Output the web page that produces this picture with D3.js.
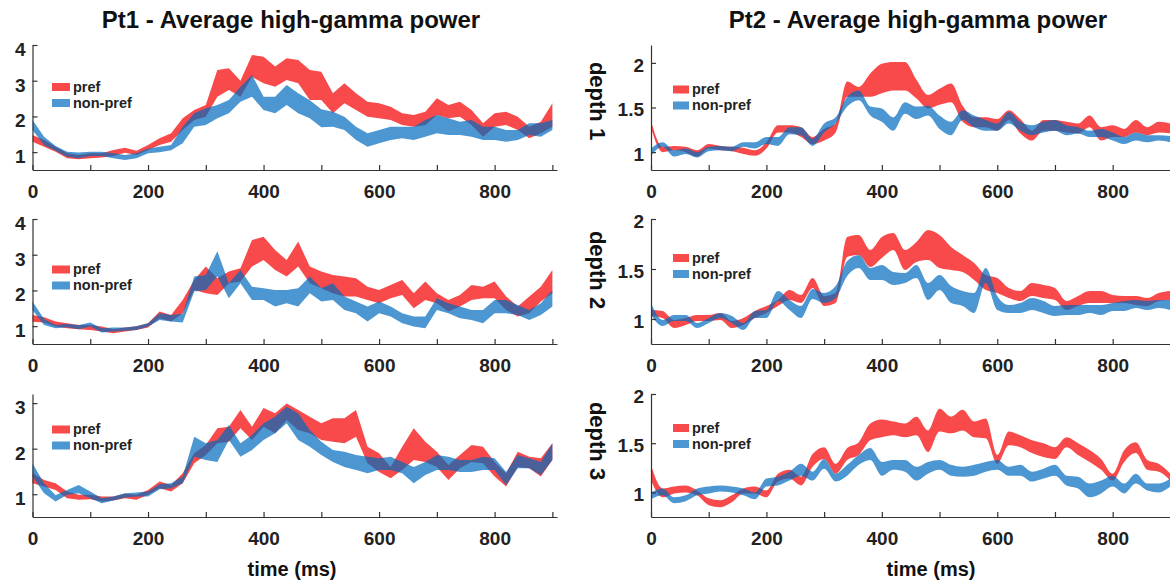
<!DOCTYPE html>
<html>
<head>
<meta charset="utf-8">
<script src="https://cdn.jsdelivr.net/npm/d3@7"></script>
<style>
  body { margin: 0; background: #fff; }
  svg { display: block; font-family: "Liberation Sans", Arial, Helvetica, sans-serif; font-weight: bold; }
</style>
</head>
<body>
<svg id="chart" width="1170" height="586"></svg>
<script>
// sample times (ms), one value every 20 ms
const timeMs = [0,20,40,60,80,100,120,140,160,180,200,220,240,260,280,300,320,340,360,380,400,420,440,
  460,480,500,520,540,560,580,600,620,640,660,680,700,720,740,760,780,800,820,840,860,880,900];

// Pt1 depth 1 (band = lower / upper edge)
const pt1d1PrefLo = [1.29,1.15,1.01,0.83,0.80,0.83,0.85,0.89,0.98,0.92,1.06,1.20,1.29,1.62,1.90,1.99,2.55,2.74,2.55,3.11,2.93,2.83,3.02,2.93,2.46,2.46,2.09,2.37,2.18,1.99,1.95,1.90,1.76,1.71,1.76,2.04,1.95,1.99,1.76,1.43,1.71,1.76,1.62,1.39,1.53,1.71];
const pt1d1PrefHi = [1.48,1.34,1.15,0.97,0.92,0.97,0.97,1.06,1.12,1.04,1.20,1.39,1.53,1.95,2.18,2.32,3.30,3.35,3.00,3.72,3.67,3.40,3.63,3.58,3.30,3.25,2.65,2.93,2.65,2.41,2.37,2.27,2.09,2.04,2.13,2.51,2.32,2.41,2.18,1.81,2.09,2.13,1.99,1.71,1.85,2.37];
const pt1d1NonLo = [1.62,1.20,1.04,0.87,0.83,0.89,0.89,0.83,0.78,0.83,0.97,1.00,1.05,1.25,1.71,1.76,1.95,2.09,2.41,2.55,2.18,2.09,2.32,2.09,1.95,1.70,1.71,1.62,1.34,1.15,1.25,1.34,1.39,1.34,1.43,1.53,1.48,1.48,1.43,1.34,1.34,1.29,1.34,1.48,1.43,1.62];
const pt1d1NonHi = [1.90,1.43,1.17,1.01,0.99,1.01,1.01,0.97,0.92,0.97,1.10,1.15,1.20,1.71,2.09,2.23,2.32,2.46,2.83,3.16,2.55,2.55,2.88,2.65,2.45,2.20,2.13,1.99,1.71,1.53,1.62,1.71,1.71,1.71,1.90,2.04,1.95,1.85,1.90,1.71,1.71,1.62,1.62,1.81,1.81,1.90];

// Pt1 depth 2
const pt1d2PrefLo = [1.12,1.10,0.99,0.94,0.91,0.89,0.85,0.80,0.85,0.89,0.96,1.22,1.13,1.36,2.01,1.92,1.87,2.20,2.25,2.67,2.85,2.57,2.39,2.67,2.20,2.06,1.92,1.83,1.83,1.73,1.64,1.78,1.87,1.50,1.73,1.64,1.41,1.55,1.73,1.78,1.78,1.45,1.27,1.36,1.69,1.92];
const pt1d2PrefHi = [1.31,1.25,1.13,1.08,1.03,1.03,0.99,0.91,0.96,1.00,1.08,1.41,1.31,1.73,2.29,2.67,2.34,2.53,2.62,3.41,3.50,3.13,2.85,3.37,2.67,2.53,2.43,2.39,2.34,2.10,2.01,2.15,2.29,1.92,2.25,1.92,1.73,1.87,2.15,2.10,2.25,1.83,1.55,1.83,2.10,2.57];
const pt1d2NonLo = [1.45,1.03,0.94,0.97,0.91,0.99,0.82,0.85,0.87,0.89,0.99,1.17,1.13,1.10,1.97,2.01,2.40,1.78,2.20,1.73,1.73,1.55,1.64,1.55,1.92,1.69,1.73,1.45,1.36,1.13,1.36,1.27,1.08,0.99,0.94,1.45,1.36,1.22,1.17,1.08,1.36,1.36,1.31,1.17,1.31,1.55];
const pt1d2NonHi = [1.69,1.20,1.03,1.06,1.03,1.10,0.94,0.96,0.96,1.00,1.08,1.36,1.31,1.35,2.39,2.43,3.10,2.20,2.57,2.10,2.06,2.01,2.01,2.06,2.39,2.06,2.20,1.83,1.69,1.55,1.69,1.55,1.36,1.27,1.27,1.78,1.64,1.55,1.45,1.45,1.73,1.73,1.59,1.45,1.64,2.01];

// Pt1 depth 3
const pt1d3PrefLo = [1.24,1.17,1.09,0.91,0.88,0.89,0.84,0.86,0.91,0.88,0.99,1.13,1.06,1.24,1.68,1.86,2.12,2.15,2.45,2.19,2.48,2.34,2.63,2.41,2.34,2.19,2.15,2.12,2.26,1.68,1.49,1.35,1.53,1.75,1.71,1.60,1.31,1.57,1.71,1.68,1.39,1.17,1.60,1.57,1.39,1.75];
const pt1d3PrefHi = [1.46,1.31,1.24,1.06,0.99,0.99,0.95,0.95,1.01,0.99,1.09,1.28,1.20,1.46,1.90,2.08,2.45,2.48,2.85,2.48,2.89,2.78,2.99,2.85,2.70,2.56,2.67,2.67,2.85,2.04,1.90,1.60,2.04,2.45,2.15,1.93,1.64,1.86,2.08,2.04,1.71,1.46,1.93,1.82,1.79,2.12];
const pt1d3NonLo = [1.39,1.02,0.84,0.99,1.02,0.91,0.80,0.86,0.93,0.95,0.95,1.11,1.13,1.24,1.82,1.75,1.71,2.19,1.82,1.97,2.19,2.34,2.56,2.19,2.04,1.86,1.71,1.60,1.53,1.46,1.53,1.53,1.46,1.24,1.42,1.53,1.53,1.49,1.49,1.53,1.53,1.20,1.57,1.57,1.42,1.75];
const pt1d3NonHi = [1.68,1.24,0.98,1.09,1.20,1.06,0.91,0.95,1.02,1.04,1.06,1.22,1.24,1.39,2.26,2.12,2.19,2.52,2.12,2.30,2.56,2.70,2.92,2.78,2.41,2.15,1.97,1.93,1.86,1.82,1.79,1.82,1.71,1.60,1.71,1.86,1.82,1.75,1.75,1.82,1.79,1.49,1.86,1.79,1.71,2.12];

// Pt2 depth 1
const pt2d1PrefLo = [1.27,1.00,1.02,1.00,0.95,1.04,1.02,1.01,0.98,0.96,1.04,1.22,1.22,1.17,1.09,1.13,1.22,1.62,1.62,1.62,1.66,1.69,1.69,1.60,1.49,1.53,1.56,1.34,1.28,1.28,1.24,1.36,1.21,1.13,1.24,1.24,1.22,1.21,1.28,1.13,1.17,1.17,1.22,1.19,1.22,1.21];
const pt2d1PrefHi = [1.35,1.06,1.07,1.06,1.02,1.09,1.07,1.06,1.05,1.02,1.11,1.30,1.30,1.28,1.17,1.26,1.32,1.79,1.73,1.88,1.99,2.01,2.01,1.81,1.64,1.71,1.77,1.52,1.39,1.39,1.37,1.47,1.37,1.24,1.36,1.36,1.34,1.32,1.41,1.28,1.30,1.26,1.36,1.28,1.34,1.32];
const pt2d1NonLo = [0.96,1.06,0.95,0.98,0.94,1.01,1.02,1.01,1.06,1.04,1.09,1.07,1.20,1.19,1.07,1.22,1.32,1.51,1.58,1.41,1.34,1.24,1.43,1.37,1.41,1.26,1.19,1.36,1.28,1.24,1.24,1.32,1.24,1.19,1.22,1.24,1.19,1.21,1.17,1.17,1.13,1.09,1.13,1.11,1.13,1.11];
const pt2d1NonHi = [1.04,1.11,1.02,1.04,1.00,1.06,1.07,1.06,1.11,1.11,1.17,1.17,1.28,1.28,1.15,1.32,1.39,1.62,1.69,1.51,1.49,1.39,1.56,1.51,1.52,1.41,1.34,1.47,1.41,1.36,1.32,1.45,1.34,1.30,1.34,1.36,1.30,1.28,1.24,1.26,1.22,1.17,1.22,1.19,1.19,1.18];

// Pt2 depth 2
const pt2d2PrefLo = [1.03,1.01,0.91,0.94,0.98,0.98,0.99,0.91,0.94,1.01,1.06,1.13,1.19,1.16,1.31,1.13,1.16,1.62,1.64,1.52,1.61,1.69,1.49,1.57,1.59,1.51,1.49,1.47,1.39,1.29,1.26,1.21,1.18,1.23,1.21,1.19,1.09,1.13,1.16,1.16,1.16,1.16,1.14,1.13,1.18,1.19];
const pt2d2PrefHi = [1.09,1.08,0.99,1.01,1.04,1.04,1.06,0.98,1.01,1.08,1.13,1.19,1.29,1.24,1.41,1.23,1.26,1.82,1.84,1.69,1.82,1.86,1.69,1.77,1.89,1.84,1.72,1.64,1.56,1.44,1.41,1.31,1.28,1.36,1.34,1.31,1.18,1.23,1.28,1.28,1.24,1.23,1.23,1.21,1.26,1.28];
const pt2d2NonLo = [1.04,0.93,0.98,0.98,0.91,0.96,1.01,0.96,0.89,1.01,1.01,1.18,1.09,1.01,1.20,1.16,1.21,1.43,1.51,1.39,1.39,1.34,1.36,1.41,1.19,1.29,1.16,1.13,1.06,1.36,1.09,1.06,1.06,1.09,1.06,1.03,1.04,1.04,1.06,1.04,1.08,1.08,1.11,1.09,1.11,1.09];
const pt2d2NonHi = [1.16,0.99,1.04,1.04,0.96,1.01,1.06,1.03,0.96,1.08,1.09,1.28,1.19,1.13,1.30,1.26,1.33,1.58,1.64,1.51,1.54,1.47,1.46,1.54,1.36,1.44,1.33,1.28,1.26,1.51,1.23,1.14,1.16,1.21,1.18,1.13,1.14,1.14,1.14,1.14,1.16,1.18,1.19,1.18,1.19,1.19];

// Pt2 depth 3
const pt2d3PrefLo = [1.12,0.95,0.99,1.00,0.97,0.87,0.85,0.90,0.99,0.99,0.95,1.11,1.14,1.07,1.26,1.34,1.19,1.33,1.38,1.53,1.56,1.58,1.56,1.58,1.41,1.62,1.60,1.63,1.56,1.55,1.29,1.48,1.46,1.40,1.36,1.34,1.46,1.38,1.31,1.23,1.12,1.31,1.40,1.23,1.21,1.12];
const pt2d3PrefHi = [1.28,1.04,1.06,1.07,1.02,0.94,0.92,0.97,1.04,1.06,1.02,1.19,1.23,1.16,1.39,1.46,1.29,1.45,1.51,1.70,1.74,1.72,1.70,1.77,1.63,1.85,1.77,1.84,1.72,1.75,1.38,1.62,1.58,1.53,1.50,1.46,1.56,1.50,1.43,1.34,1.19,1.43,1.51,1.33,1.29,1.19];
const pt2d3NonLo = [0.93,0.97,0.89,0.91,0.97,0.99,1.01,1.00,0.97,0.93,1.06,1.07,1.12,1.17,1.12,1.24,1.11,1.17,1.28,1.33,1.17,1.23,1.21,1.12,1.19,1.23,1.17,1.16,1.17,1.21,1.23,1.17,1.17,1.11,1.14,1.17,1.07,1.04,0.95,0.99,1.06,0.99,1.09,1.02,1.00,1.06];
const pt2d3NonHi = [1.00,1.04,0.95,0.97,1.04,1.06,1.07,1.06,1.04,1.00,1.14,1.16,1.21,1.29,1.21,1.34,1.19,1.28,1.38,1.45,1.31,1.33,1.33,1.26,1.31,1.33,1.28,1.26,1.28,1.31,1.33,1.26,1.28,1.21,1.24,1.28,1.17,1.16,1.09,1.12,1.17,1.09,1.19,1.09,1.09,1.14];

// axis limits and ticks
const xLimits = [0, 908];
const xTickValues = [0,100,200,300,400,500,600,700,800,900];
const xTickLabels = [0,200,400,600,800];
const pt1YLimits = [[0.5, 4], [0.5, 4], [0.5, 3.2]];
const pt1YTicks = [[1,2,3,4], [1,2,3,4], [1,2,3]];
const pt2YLimits = [[0.8, 2.2], [0.75, 2], [0.75, 2]];
const pt2YTicks = [[1,1.5,2], [1,1.5,2], [1,1.5,2]];

const titles = ['Pt1 - Average high-gamma power', 'Pt2 - Average high-gamma power'];
const depthLabels = ['depth 1', 'depth 2', 'depth 3'];
const seriesNames = ['pref', 'non-pref'];

// layout
const svg = d3.select('#chart');
const colRange = [[32.5, 557], [651, 1175]];
const rowRange = [[170, 45], [344, 219], [517, 394]];
const legendTop = [[38, 46.5, 31.5], [40.5, 35, 30]];
const prefColor = '#f84a4a';
const nonColor = 'rgb(0,105,190)';
const nonOpacity = 0.7;
const axisColor = '#333';

const panels = [
  {col: 0, row: 0, yLim: pt1YLimits[0], yTicks: pt1YTicks[0], pref: [pt1d1PrefLo, pt1d1PrefHi], non: [pt1d1NonLo, pt1d1NonHi]},
  {col: 0, row: 1, yLim: pt1YLimits[1], yTicks: pt1YTicks[1], pref: [pt1d2PrefLo, pt1d2PrefHi], non: [pt1d2NonLo, pt1d2NonHi]},
  {col: 0, row: 2, yLim: pt1YLimits[2], yTicks: pt1YTicks[2], pref: [pt1d3PrefLo, pt1d3PrefHi], non: [pt1d3NonLo, pt1d3NonHi]},
  {col: 1, row: 0, yLim: pt2YLimits[0], yTicks: pt2YTicks[0], pref: [pt2d1PrefLo, pt2d1PrefHi], non: [pt2d1NonLo, pt2d1NonHi]},
  {col: 1, row: 1, yLim: pt2YLimits[1], yTicks: pt2YTicks[1], pref: [pt2d2PrefLo, pt2d2PrefHi], non: [pt2d2NonLo, pt2d2NonHi]},
  {col: 1, row: 2, yLim: pt2YLimits[2], yTicks: pt2YTicks[2], pref: [pt2d3PrefLo, pt2d3PrefHi], non: [pt2d3NonLo, pt2d3NonHi]}
];

let drawPanel = (p) => {
  let x = d3.scaleLinear().domain(xLimits).range(colRange[p.col]);
  let y = d3.scaleLinear().domain(p.yLim).range(rowRange[p.row]);
  let g = svg.append('g');

  //shaded bands: pref first, non-pref semi transparent on top
  let area = d3.area()
    .x(d => x(d.t))
    .y0(d => y(d.lo))
    .y1(d => y(d.hi))
    .curve(p.col === 0 ? d3.curveLinear : d3.curveMonotoneX);
  let rows = (band) => timeMs.map((t, i) => ({t: t, lo: band[0][i], hi: band[1][i]}));

  g.append('path').datum(rows(p.pref))
    .attr('d', area).attr('fill', prefColor);
  g.append('path').datum(rows(p.non))
    .attr('d', area).attr('fill', nonColor).attr('fill-opacity', nonOpacity);

  //axes, ticks pointing inwards
  let xAxis = d3.axisBottom(x)
    .tickValues(xTickValues)
    .tickFormat(d => xTickLabels.includes(d) ? d : '')
    .tickSizeInner(-5).tickSizeOuter(0).tickPadding(15);
  let yAxis = d3.axisLeft(y)
    .tickValues(p.yTicks)
    .tickFormat(d3.format('~g'))
    .tickSizeInner(-5).tickSizeOuter(0).tickPadding(7);

  let gx = g.append('g').attr('transform', 'translate(0,' + rowRange[p.row][0] + ')').call(xAxis);
  let gy = g.append('g').attr('transform', 'translate(' + colRange[p.col][0] + ',0)').call(yAxis);
  [gx, gy].forEach(a => {
    a.attr('font-family', null).attr('font-size', 19);
    a.select('.domain').attr('stroke', axisColor).attr('stroke-width', 1.2);
    a.selectAll('.tick line').attr('stroke', axisColor).attr('stroke-width', 1.2);
    a.selectAll('.tick text').attr('fill', '#222');
  });
  gy.selectAll('.tick text').attr('dy', p.col === 0 ? '0.55em' : '0.43em');

  //legend
  let sw = p.col === 0 ? 18 : 16;
  let lg = g.append('g')
    .attr('transform', 'translate(' + (colRange[p.col][0] + (p.col === 0 ? 19.5 : 22)) + ',' + (rowRange[p.row][1] + legendTop[p.col][p.row]) + ')');
  seriesNames.forEach((name, i) => {
    lg.append('rect')
      .attr('x', 0).attr('y', i * 16)
      .attr('width', sw).attr('height', 8)
      .attr('fill', i === 0 ? prefColor : nonColor)
      .attr('fill-opacity', i === 0 ? 1 : nonOpacity);
    lg.append('text')
      .attr('x', sw + 3).attr('y', i * 16 + 8.5)
      .attr('font-size', 14.5).attr('fill', '#222')
      .text(name);
  });
};

panels.forEach(drawPanel);

//titles
const titleX = [291, 918];
titles.forEach((t, i) => {
  svg.append('text')
    .attr('x', titleX[i]).attr('y', 28)
    .attr('text-anchor', 'middle')
    .attr('font-size', 24).attr('fill', '#111')
    .text(t);
});

//depth labels, rotated
const depthY = [101, 270, 441];
depthLabels.forEach((t, i) => {
  svg.append('text')
    .attr('transform', 'translate(590,' + depthY[i] + ') rotate(90)')
    .attr('text-anchor', 'middle')
    .attr('font-size', 22).attr('fill', '#111')
    .text(t);
});

//x axis titles
const timeLabelX = [292, 931];
timeLabelX.forEach(cx => {
  svg.append('text')
    .attr('x', cx).attr('y', 576)
    .attr('text-anchor', 'middle')
    .attr('font-size', 20).attr('fill', '#111')
    .text('time (ms)');
});
</script>
</body>
</html>
